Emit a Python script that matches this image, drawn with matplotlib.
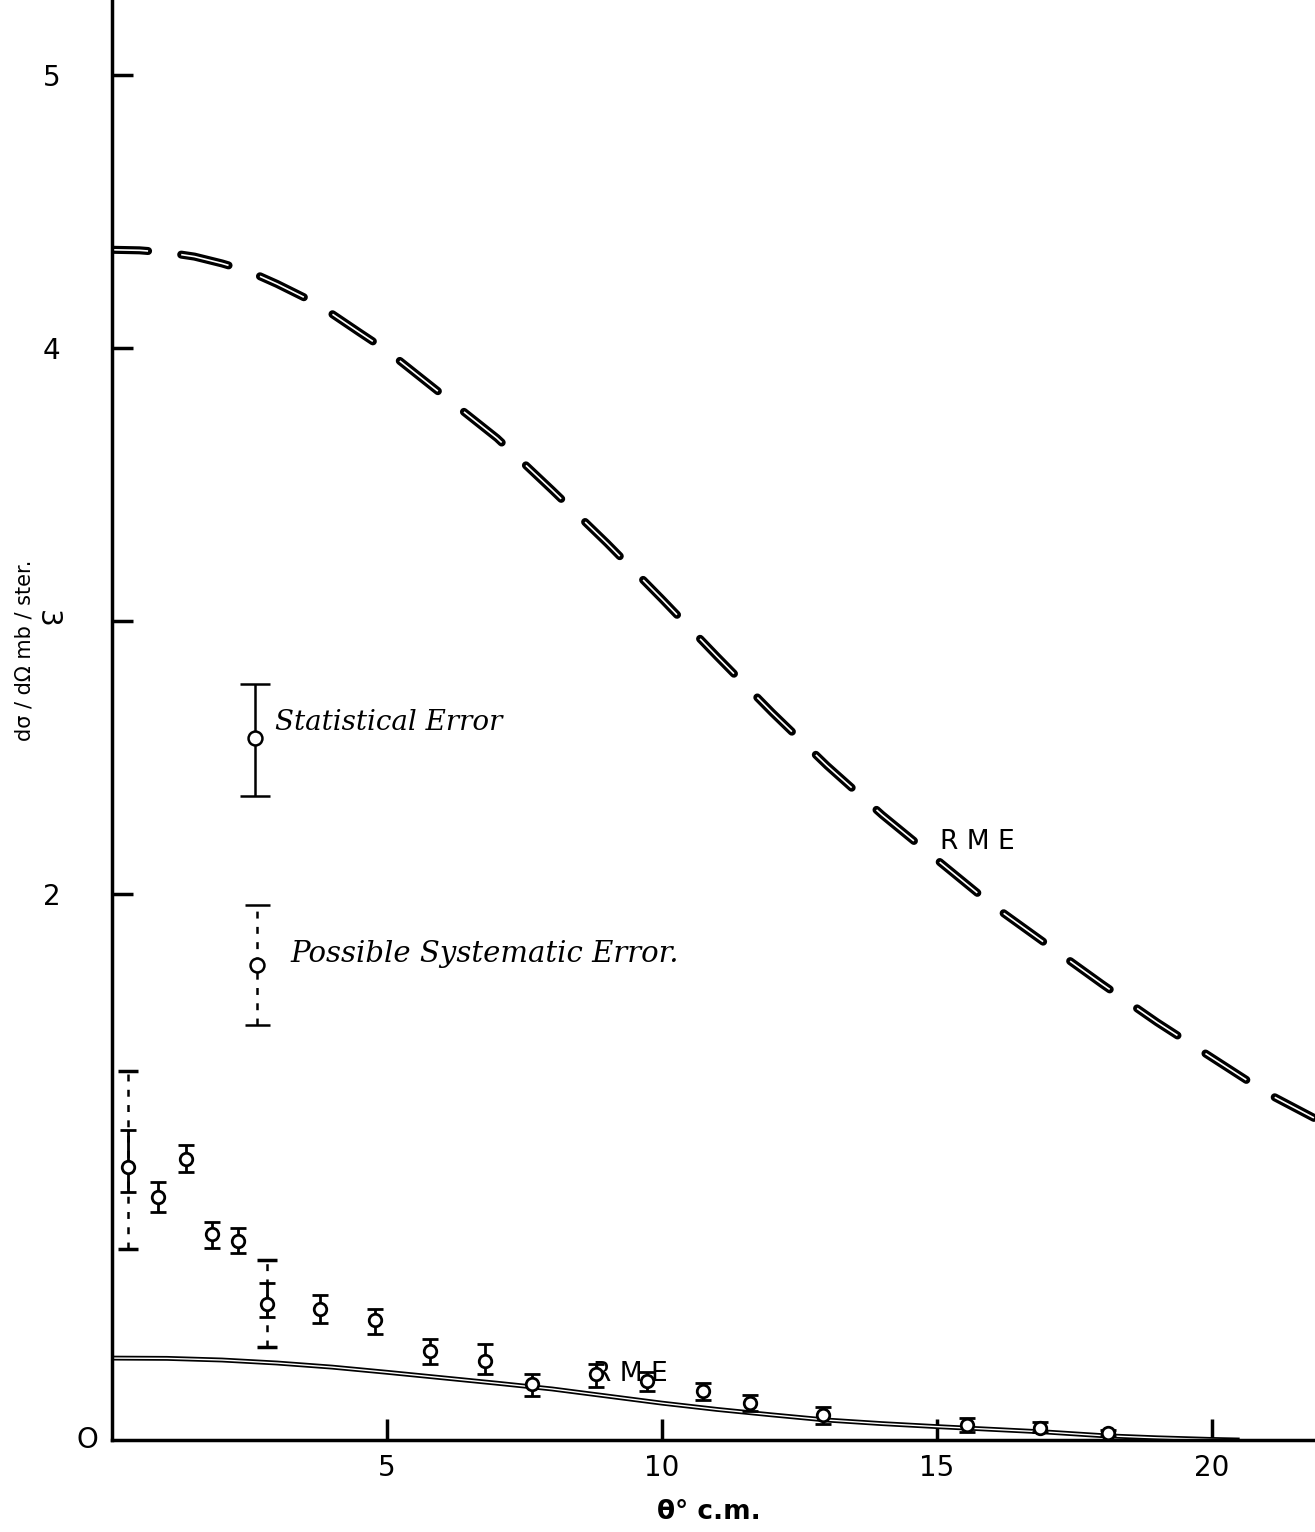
import matplotlib
matplotlib.use("Agg")
import matplotlib.pyplot as plt

plt.rcParams['lines.scale_dashes'] = False

# RME curve, large (dashed)
rme_big_theta = [0, 0.5, 1, 1.5, 2, 2.5, 3, 3.5, 4, 4.5, 5, 5.5, 6, 7, 8, 9, 10, 11, 12, 13, 14,
                 15, 16, 17, 18, 19, 20, 21, 21.85]
rme_big_xsec = [4.36, 4.358, 4.35, 4.335, 4.31, 4.28, 4.235, 4.185, 4.125, 4.057, 3.99, 3.91,
                3.83, 3.67, 3.48, 3.285, 3.08, 2.87, 2.665, 2.47, 2.29, 2.125, 1.96, 1.815, 1.67,
                1.53, 1.40, 1.27, 1.18]

# RME curve, small (solid)
rme_small_theta = [0, 1, 2, 3, 4, 5, 6, 7, 8, 9, 10, 11, 12, 13, 14, 15, 16, 17, 18, 19, 20, 20.5]
rme_small_xsec = [0.300, 0.299, 0.293, 0.282, 0.267, 0.248, 0.228, 0.208, 0.187, 0.161, 0.135,
                  0.112, 0.092, 0.073, 0.060, 0.049, 0.039, 0.029, 0.016, 0.008, 0.002, 0.0]

# measured points with statistical errors
theta = [0.29, 0.84, 1.35, 1.82, 2.29, 2.82, 3.78, 4.78, 5.78, 6.78, 7.64, 8.8, 9.73, 10.75,
         11.6, 12.93, 15.55, 16.87, 18.1]
xsec = [1.0, 0.89, 1.03, 0.755, 0.73, 0.50, 0.48, 0.44, 0.325, 0.29, 0.205, 0.24, 0.215, 0.18,
        0.135, 0.09, 0.055, 0.045, 0.025]
err_lo = [0.09, 0.055, 0.05, 0.05, 0.045, 0.05, 0.05, 0.05, 0.045, 0.05, 0.045, 0.045, 0.035,
          0.035, 0.03, 0.03, 0.025, 0.015, 0.01]
err_hi = [0.135, 0.055, 0.05, 0.045, 0.045, 0.075, 0.05, 0.04, 0.045, 0.06, 0.035, 0.04, 0.035,
          0.03, 0.03, 0.03, 0.025, 0.02, 0.01]

# possible systematic error (limits)
sys_theta = [0.29, 2.82]
sys_xsec = [1.0, 0.50]
sys_low = [0.70, 0.34]
sys_high = [1.35, 0.66]

# key symbols
key_stat = (2.6, 2.57, 0.21, 0.20)
key_sys = (2.64, 1.74, 0.22, 0.22)

fig = plt.figure(figsize=(13.15, 15.32), dpi=100)
ax = fig.add_axes([112 / 1315, 92 / 1532, 1203 / 1315, 1440 / 1532])

# dashed curve: black outline with a thin white core
ax.plot(rme_big_theta, rme_big_xsec, color='black', lw=5.8,
        linestyle=(9, (35, 24)), dash_capstyle='round')
ax.plot(rme_big_theta, rme_big_xsec, color='white', lw=1.2,
        linestyle=(9, (35, 24)), dash_capstyle='butt')

# solid curve
ax.plot(rme_small_theta, rme_small_xsec, color='black', lw=3.5, solid_capstyle='butt')
ax.plot(rme_small_theta, rme_small_xsec, color='white', lw=1.0, solid_capstyle='butt')

# systematic errors (dashed bars)
sys_err = [[c - l for c, l in zip(sys_xsec, sys_low)], [h - c for c, h in zip(sys_xsec, sys_high)]]
eb = ax.errorbar(sys_theta, sys_xsec, yerr=sys_err, fmt='none', ecolor='black',
                 elinewidth=1.8, capsize=7, capthick=2.5)
eb[2][0].set_linestyle((0, (5, 6)))

# data points
ax.errorbar(theta, xsec, yerr=[err_lo, err_hi], fmt='o', ms=9, mfc='white', mec='black',
            mew=2, ecolor='black', elinewidth=2, capsize=6, capthick=2.5, zorder=5)

# key
ax.errorbar([key_stat[0]], [key_stat[1]], yerr=[[key_stat[2]], [key_stat[3]]], fmt='o', ms=10,
            mfc='white', mec='black', mew=1.8, ecolor='black', elinewidth=1.8,
            capsize=11, capthick=2.5)
kb = ax.errorbar([key_sys[0]], [key_sys[1]], yerr=[[key_sys[2]], [key_sys[3]]], fmt='o', ms=10,
                 mfc='white', mec='black', mew=1.8, ecolor='black', elinewidth=1.8,
                 capsize=9, capthick=2.5)
kb[2][0].set_linestyle((0, (5, 6)))

ax.text(2.96, 2.63, 'Statistical Error', fontsize=20, style='italic',
        family='DejaVu Serif', va='center')
ax.text(3.24, 1.78, 'Possible Systematic Error.', fontsize=21, style='italic',
        family='DejaVu Serif', va='center')

ax.text(15.73, 2.19, 'R M E', fontsize=19, ha='center', va='center')
ax.text(9.42, 0.24, 'R M E', fontsize=19, ha='center', va='center')

ax.set_xlim(0, 21.87)
ax.set_ylim(0, 5.275)
for s in ['top', 'right']:
    ax.spines[s].set_visible(False)
for s in ['left', 'bottom']:
    ax.spines[s].set_linewidth(2.5)

ax.set_xticks([5, 10, 15, 20])
ax.set_xticklabels(['5', '10', '15', '20'])
ax.set_yticks([2, 3, 4, 5])
ax.set_yticklabels(['2', '3', '4', '5'])
ax.get_yticklabels()[1].set_rotation(-90)
ax.tick_params(axis='x', direction='in', length=15, width=2.5, pad=10, labelsize=20)
ax.tick_params(axis='y', direction='in', length=15, width=2.5, pad=37, labelsize=20)
ax.text(-0.45, 0, 'O', fontsize=20, ha='center', va='center', clip_on=False)

fig.text(709 / 1315, 1 - 1512 / 1532, 'θ° c.m.', fontsize=19, fontweight='bold',
         ha='center', va='center')
fig.text(25 / 1315, 1 - 650 / 1532, 'dσ / dΩ mb / ster.', rotation=90, fontsize=15,
         ha='center', va='center')

fig.savefig('out.png', dpi=100)
